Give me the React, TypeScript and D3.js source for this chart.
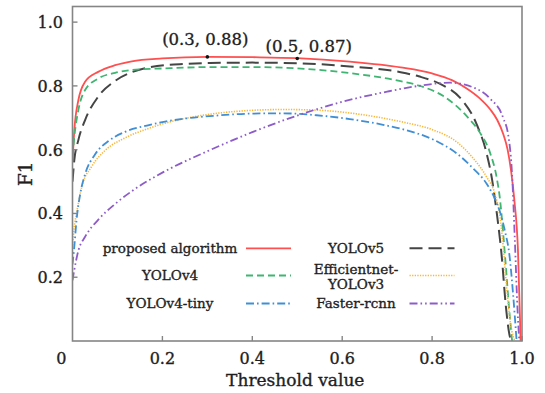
import * as d3 from "d3";

// threshold vs F1
const proposedCurve: [number, number][] = [
  [0, 0.56], [0.004, 0.66], [0.013, 0.755], [0.028, 0.813], [0.057, 0.844], [0.095, 0.865],
  [0.132, 0.877], [0.2, 0.886], [0.3, 0.891], [0.4, 0.89], [0.5, 0.887], [0.617, 0.876],
  [0.73, 0.858], [0.8, 0.839], [0.844, 0.818], [0.877, 0.792], [0.906, 0.761], [0.93, 0.725],
  [0.945, 0.693], [0.958, 0.65], [0.968, 0.6], [0.976, 0.53], [0.983, 0.442], [0.991, 0.285],
  [0.997, 0.0],
];
const yolov5Curve: [number, number][] = [
  [0, 0.5], [0.004, 0.567], [0.013, 0.63], [0.028, 0.693], [0.057, 0.766], [0.095, 0.816],
  [0.132, 0.843], [0.17, 0.858], [0.25, 0.869], [0.306, 0.872], [0.4, 0.873], [0.5, 0.871],
  [0.617, 0.861], [0.73, 0.843], [0.77, 0.83], [0.818, 0.806], [0.862, 0.763], [0.899, 0.68],
  [0.921, 0.59], [0.933, 0.51], [0.944, 0.4], [0.955, 0.264], [0.964, 0.11], [0.972, 0.02],
  [0.976, 0.0],
];
const yolov4Curve: [number, number][] = [
  [0, 0.58], [0.004, 0.64], [0.013, 0.724], [0.028, 0.787], [0.057, 0.823], [0.095, 0.841],
  [0.132, 0.85], [0.206, 0.855], [0.306, 0.859], [0.4, 0.859], [0.499, 0.855], [0.617, 0.84],
  [0.73, 0.815], [0.773, 0.8], [0.825, 0.768], [0.877, 0.705], [0.907, 0.652], [0.929, 0.59],
  [0.944, 0.51], [0.951, 0.445], [0.958, 0.34], [0.964, 0.235], [0.971, 0.107], [0.978, 0.0],
];
const effYolov3Curve: [number, number][] = [
  [0, 0.3], [0.004, 0.358], [0.009, 0.4], [0.02, 0.48], [0.043, 0.548], [0.072, 0.597],
  [0.117, 0.637], [0.17, 0.667], [0.206, 0.683], [0.247, 0.697], [0.321, 0.714], [0.395, 0.723],
  [0.469, 0.726], [0.543, 0.724], [0.617, 0.715], [0.691, 0.699], [0.74, 0.685], [0.802, 0.662],
  [0.855, 0.624], [0.892, 0.572], [0.921, 0.515], [0.94, 0.46], [0.951, 0.39], [0.958, 0.3],
  [0.965, 0.18], [0.975, 0.05], [0.984, 0.0],
];
const yolov4TinyCurve: [number, number][] = [
  [0, 0.24], [0.004, 0.296], [0.009, 0.379], [0.017, 0.46], [0.028, 0.523], [0.05, 0.585],
  [0.08, 0.627], [0.117, 0.656], [0.17, 0.677], [0.206, 0.688], [0.247, 0.697], [0.321, 0.707],
  [0.395, 0.713], [0.469, 0.714], [0.543, 0.708], [0.617, 0.696], [0.691, 0.678], [0.74, 0.662],
  [0.802, 0.632], [0.855, 0.588], [0.892, 0.54], [0.921, 0.494], [0.94, 0.445], [0.951, 0.405],
  [0.962, 0.345], [0.972, 0.27], [0.98, 0.15], [0.988, 0.0],
];
const fasterRcnnCurve: [number, number][] = [
  [0, 0.19], [0.004, 0.223], [0.013, 0.283], [0.028, 0.327], [0.057, 0.38], [0.095, 0.43],
  [0.132, 0.47], [0.2, 0.528], [0.3, 0.595], [0.4, 0.655], [0.5, 0.707], [0.6, 0.75],
  [0.7, 0.782], [0.77, 0.8], [0.84, 0.81], [0.892, 0.795], [0.929, 0.76], [0.958, 0.7],
  [0.97, 0.64], [0.978, 0.52], [0.984, 0.32], [0.99, 0.1], [0.994, 0.0],
];

const xTicks = [0.2, 0.4, 0.6, 0.8, 1.0];
const yTicks = [0.2, 0.4, 0.6, 0.8, 1.0];

const annotX = [0.3, 0.5];
const annotY = [0.891, 0.886];
const annotLabels = ["(0.3, 0.88)", "(0.5, 0.87)"];

const series = [
  { name: ["proposed algorithm"], data: proposedCurve, color: "#ff4f4f", dash: "", width: 1.8 },
  { name: ["YOLOv5"], data: yolov5Curve, color: "#454545", dash: "13 6", width: 2 },
  { name: ["YOLOv4"], data: yolov4Curve, color: "#3fb571", dash: "7 4", width: 1.8 },
  { name: ["Efficientnet-", "YOLOv3"], data: effYolov3Curve, color: "#f9b73a", dash: "1.3 1.3", width: 1.6 },
  { name: ["YOLOv4-tiny"], data: yolov4TinyCurve, color: "#3f8fd6", dash: "8 3 1.6 3", width: 1.8 },
  { name: ["Faster-rcnn"], data: fasterRcnnCurve, color: "#8d5cc9", dash: "8 3 1.6 3 1.6 3", width: 1.8 },
];

const W = 545;
const H = 393;
const margin = { left: 72.5, right: 23, top: 6.5, bottom: 52 };
const font = "'DejaVu Serif', serif";
const ink = "#1e1e1e";

export default function App() {
  const x = d3.scaleLinear().domain([0, 1]).range([margin.left, W - margin.right]);
  const y = d3.scaleLinear().domain([0, 1.049]).range([H - margin.bottom, margin.top]);
  const line = d3
    .line<[number, number]>()
    .x(d => x(d[0]))
    .y(d => y(d[1]))
    .curve(d3.curveMonotoneX);

  const [x0, x1] = x.range();
  const [y0, y1] = y.range();

  // legend: 2 columns x 3 rows
  const legendCols = [170, 356];
  const legendSample = [246, 409.5];
  const legendRows = [248.3, 275.5, 303.5];

  const heavy = { stroke: ink, strokeWidth: 0.35 };

  return (
    <svg width={W} height={H} style={{ position: "absolute", left: 0, top: 0, background: "#fff" }}>
      <rect width={W} height={H} fill="#fff" />
      <defs>
        <clipPath id="plot">
          <rect x={x0} y={y1} width={x1 - x0} height={y0 - y1} />
        </clipPath>
      </defs>

      <g clipPath="url(#plot)">
        {series.map(s => (
          <path
            key={s.name.join("")}
            d={line(s.data) ?? ""}
            fill="none"
            stroke={s.color}
            strokeWidth={s.width}
            strokeDasharray={s.dash || undefined}
          />
        ))}
      </g>

      {/* frame */}
      <rect x={x0} y={y1} width={x1 - x0} height={y0 - y1} fill="none" stroke="#858585" strokeWidth={1.6} />

      {/* ticks */}
      {xTicks.map(t => (
        <g key={"x" + t}>
          <line x1={x(t)} x2={x(t)} y1={y0} y2={y0 - 5} stroke="#858585" strokeWidth={1.4} />
          <text x={x(t)} y={y0 + 23} textAnchor="middle" fontFamily={font} fontSize={16} fill={ink} {...heavy}>
            {t.toFixed(1)}
          </text>
        </g>
      ))}
      <text x={x(0) - 6} y={y0 + 23} textAnchor="end" fontFamily={font} fontSize={16} fill={ink} {...heavy}>
        0
      </text>
      {yTicks.map(t => (
        <g key={"y" + t}>
          <line x1={x0} x2={x0 + 5} y1={y(t)} y2={y(t)} stroke="#858585" strokeWidth={1.4} />
          <text x={x0 - 9.5} y={y(t)} dy="0.37em" textAnchor="end" fontFamily={font} fontSize={16} fill={ink} {...heavy}>
            {t.toFixed(1)}
          </text>
        </g>
      ))}

      {/* axis titles */}
      <text x={(x0 + x1) / 2 - 2} y={386} textAnchor="middle" fontFamily={font} fontSize={17} fill={ink} {...heavy}>
        Threshold value
      </text>
      <text
        transform={`translate(32, ${(y0 + y1) / 2}) rotate(-90)`}
        textAnchor="middle"
        fontFamily={font}
        fontSize={18.5}
        fill={ink}
        {...heavy}
      >
        F1
      </text>

      {/* annotations */}
      {annotX.map((t, i) => (
        <circle key={"d" + i} cx={x(t)} cy={y(annotY[i])} r={1.8} fill="#111" />
      ))}
      <text x={x(annotX[0]) - 2} y={y(annotY[0]) - 12} textAnchor="middle" fontFamily={font} fontSize={16.5} fill={ink} {...heavy}>
        {annotLabels[0]}
      </text>
      <text x={x(annotX[1]) + 11.5} y={y(annotY[1]) - 6.5} textAnchor="middle" fontFamily={font} fontSize={16.5} fill={ink} {...heavy}>
        {annotLabels[1]}
      </text>

      {/* legend */}
      {series.map((s, i) => {
        const col = i % 2;
        const row = Math.floor(i / 2);
        const cy = legendRows[row];
        const cx = legendCols[col];
        const sx = legendSample[col];
        return (
          <g key={"l" + i}>
            {s.name.length === 1 ? (
              <text x={cx} y={cy} dy="0.35em" textAnchor="middle" fontFamily={font} fontSize={13.5} fill={ink} {...heavy}>
                {s.name[0]}
              </text>
            ) : (
              <text textAnchor="middle" fontFamily={font} fontSize={13.5} fill={ink} {...heavy}>
                <tspan x={cx} y={cy - 6} dy="0.35em">{s.name[0]}</tspan>
                <tspan x={cx} y={cy + 8.5} dy="0.35em">{s.name[1]}</tspan>
              </text>
            )}
            <line
              x1={sx}
              x2={sx + 45}
              y1={cy}
              y2={cy}
              stroke={s.color}
              strokeWidth={s.width}
              strokeDasharray={s.dash || undefined}
            />
          </g>
        );
      })}
    </svg>
  );
}
